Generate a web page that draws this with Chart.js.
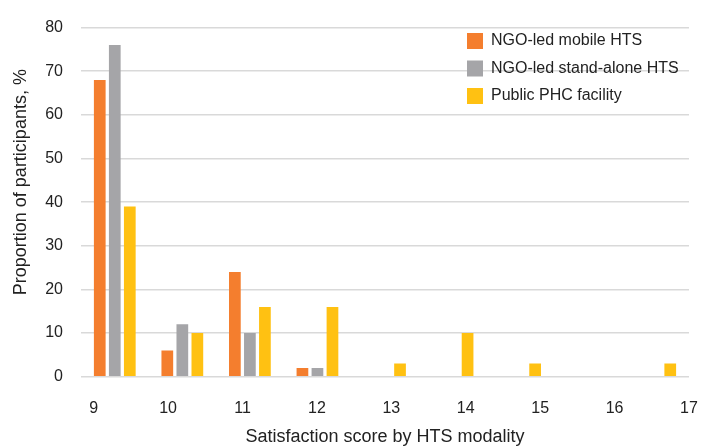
<!DOCTYPE html>
<html>
<head>
<meta charset="utf-8">
<script src="https://cdn.jsdelivr.net/npm/chart.js@4"></script>
<style>
  body { margin: 0; background: #fff; }
  #wrap { width: 701px; height: 446px; }
</style>
</head>
<body>
<div id="wrap"><canvas id="satisfactionChart"></canvas></div>
<script>
// Kategoriler (memnuniyet puanı) ve eksen etiketleri
const scores = ["9", "10", "11", "12", "13", "14", "15", "16", "17"];
const scoreTicks = [9, 10, 11, 12, 13, 14, 15, 16, 17];

// Seri değerleri (% katılımcı)
const mobileHts = [68, 6, 24, 2, null, null, null, null, null];
const standAloneHts = [76, 12, 10, 2, null, null, null, null, null];
const publicPhc = [39, 10, 16, 16, 3, 10, 3, null, 3];

const FONT = '"Liberation Sans", Arial, sans-serif';
const TEXT = "#222222";

// Grafiğin içine sağ üstte çizilen gösterge
const insideLegend = {
    id: "insideLegend",
    afterDraw(chart) {
        const ctx = chart.ctx;
        const left = chart.chartArea.right - 222;
        ctx.save();
        ctx.font = "16px " + FONT;
        ctx.textBaseline = "middle";
        chart.data.datasets.forEach((ds, i) => {
            const y = 41 + i * 27.5;
            ctx.fillStyle = ds.backgroundColor;
            ctx.fillRect(left, y - 8, 16, 16);
            ctx.fillStyle = TEXT;
            ctx.fillText(ds.label, left + 24, y);
        });
        ctx.restore();
    }
};

new Chart(document.getElementById("satisfactionChart"), {
    type: "bar",
    data: {
        labels: scores,
        datasets: [
            { label: "NGO-led mobile HTS", data: mobileHts, backgroundColor: "#F47E2E" },
            { label: "NGO-led stand-alone HTS", data: standAloneHts, backgroundColor: "#A5A5A8" },
            { label: "Public PHC facility", data: publicPhc, backgroundColor: "#FFC112" },
        ],
    },
    options: {
        responsive: true,
        maintainAspectRatio: false,
        animation: false,
        categoryPercentage: 0.667,
        barPercentage: 0.78,
        layout: { padding: { top: 16, right: 12, left: 0, bottom: 0 } },
        plugins: {
            legend: { display: false },
            tooltip: { enabled: false },
        },
        scales: {
            x: { display: false },
            // Etiketler için ayrı doğrusal eksen (çubuk grubu aralığından farklı aralıklı)
            x2: {
                type: "linear",
                position: "bottom",
                offset: false,
                bounds: "data",
                min: 8.83,
                max: 17,
                afterBuildTicks: scale => { scale.ticks = scoreTicks.map(v => ({ value: v })); },
                afterFit: scale => {
                    scale.height = 69.3;
                    scale.paddingLeft = 0;
                    scale.paddingRight = 0;
                },
                grid: { display: false },
                border: { display: false },
                ticks: { padding: 14, maxRotation: 0, autoSkip: false, color: TEXT, font: { family: FONT, size: 16 } },
                title: {
                    display: true,
                    text: "Satisfaction score by HTS modality",
                    color: TEXT,
                    font: { family: FONT, size: 18 },
                    padding: { top: 0, bottom: -2 },
                },
            },
            y: {
                min: 0,
                max: 80,
                afterFit: scale => { scale.width = 81; },
                grid: { color: "#d9d9d9", lineWidth: 1.6, drawTicks: false },
                border: { display: false },
                ticks: { stepSize: 10, padding: 18, color: TEXT, font: { family: FONT, size: 16 } },
                title: {
                    display: true,
                    text: "        Proportion of participants, %",
                    color: TEXT,
                    font: { family: FONT, size: 18 },
                    padding: { top: 10, bottom: 0 },
                },
            },
        },
    },
    plugins: [insideLegend],
});
</script>
</body>
</html>
